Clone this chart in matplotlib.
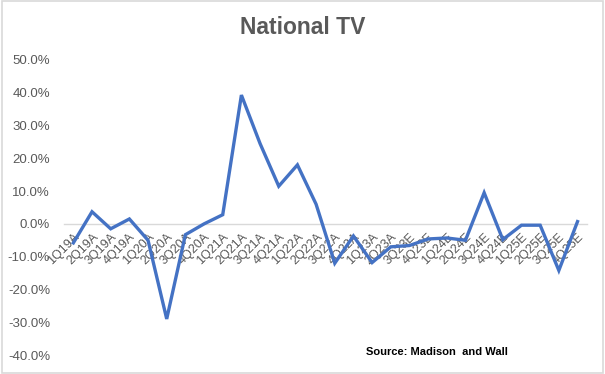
import matplotlib
matplotlib.use("Agg")
import matplotlib.pyplot as plt
from matplotlib.patches import Rectangle
from matplotlib.ticker import FuncFormatter, MultipleLocator

quarters = ["1Q19A", "2Q19A", "3Q19A", "4Q19A", "1Q20A", "2Q20A", "3Q20A", "4Q20A",
            "1Q21A", "2Q21A", "3Q21A", "4Q21A", "1Q22A", "2Q22A", "3Q22A", "4Q22A",
            "1Q23A", "2Q23A", "3Q23E", "4Q23E", "1Q24E", "2Q24E", "3Q24E", "4Q24E",
            "1Q25E", "2Q25E", "3Q25E", "4Q25E"]
growth = [-5.8, 3.7, -1.5, 1.5, -5.0, -29.0, -3.3, 0.0,
          2.8, 39.3, 24.5, 11.5, 18.0, 6.0, -12.0, -3.7,
          -11.8, -7.0, -6.6, -4.6, -4.3, -5.0, 9.5, -4.8,
          -0.4, -0.4, -14.2, 0.7]

plt.rcParams['font.family'] = ['Liberation Sans', 'DejaVu Sans']
gray = "#595959"

fig = plt.figure(figsize=(6.05, 3.74), dpi=100)
ax = fig.add_axes([0.1058, 0.0508, 0.970 - 0.1058, 0.8396 - 0.0508])

x = list(range(len(quarters)))
ax.plot(x, growth, color="#4472C4", linewidth=2.4, solid_joinstyle='miter')

ax.set_xlim(-0.5, len(quarters) - 0.5)
ax.set_ylim(-40, 50)
ax.yaxis.set_major_locator(MultipleLocator(10))
ax.yaxis.set_major_formatter(FuncFormatter(lambda v, p: f"{v:.1f}%"))

for s in ["top", "right", "left"]:
    ax.spines[s].set_visible(False)
ax.spines["bottom"].set_position(("data", 0))
ax.spines["bottom"].set_color("#D9D9D9")
ax.spines["bottom"].set_linewidth(1.0)
ax.spines["bottom"].set_zorder(0)

ax.set_xticks(x)
ax.set_xticklabels(quarters, rotation=45, ha="right", va="top",
                   rotation_mode="anchor", fontsize=9, color=gray)
ax.tick_params(axis="x", length=0, pad=5)
ax.tick_params(axis="y", length=0, pad=10, labelsize=9.5, labelcolor=gray)

fig.text(0.5, 1 - 27 / 374, "National TV", ha="center", va="center",
         fontsize=16.5, fontweight="bold", color=gray)
fig.text(366 / 605, 1 - 352 / 374, "Source: Madison  and Wall", ha="left", va="center",
         fontsize=8, fontweight="bold", color="black")

fig.patches.append(Rectangle((0.003, 0.003), 0.994, 0.994, transform=fig.transFigure,
                             fill=False, edgecolor="#D9D9D9", linewidth=1.2))

fig.savefig("out.png", dpi=100)
